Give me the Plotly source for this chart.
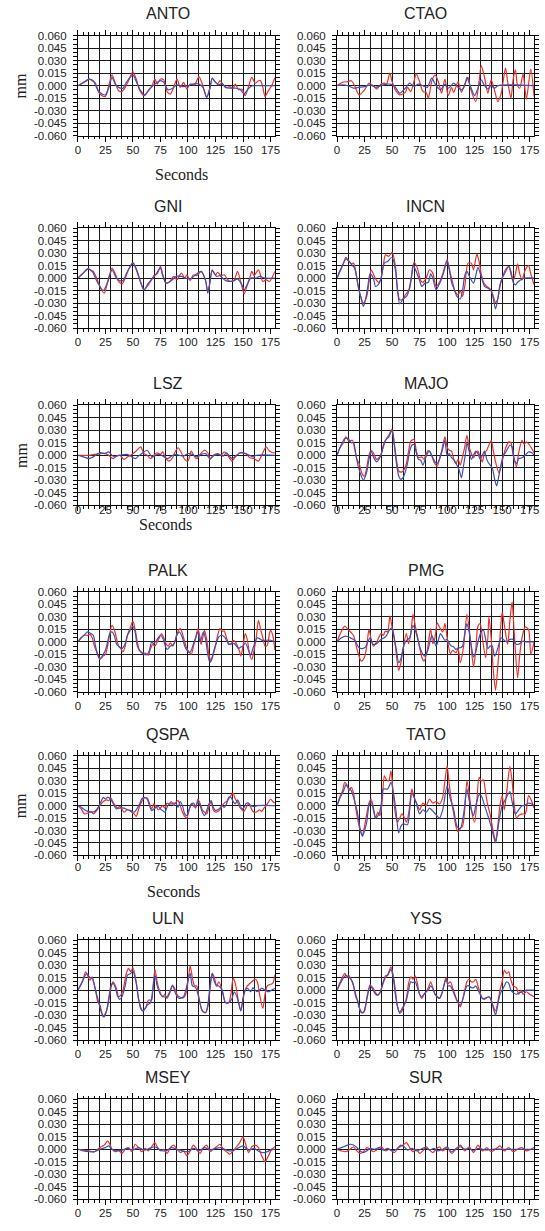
import plotly.graph_objects as go

# Station displacement traces: (seconds, value in 0.001 mm)
STATIONS = ["ANTO", "CTAO", "GNI", "INCN", "LSZ", "MAJO", "PALK", "PMG",
            "QSPA", "TATO", "ULN", "YSS", "MSEY", "SUR"]

ANTO_RED = [(0,0),(3,2),(6,5),(10,8),(13,6),(16,3),(19,-8),(22,-12),(25,-13),(28,0),(31,13),(34,3),(37,-6),(40,-7),(43,-2),(47,9),(50,17),(53,8),(56,-5),(60,-12),(64,-6),(67,-1),(70,8),(72,2),(75,8),(78,7),(81,-7),(84,-10),(87,-2),(90,8),(93,-2),(96,4),(99,-4),(102,2),(106,1),(110,11),(113,2),(117,-14),(120,-2),(122,9),(124,6),(127,2),(129,6),(132,1),(135,-2),(138,-1),(141,-3),(143,2),(146,-5),(149,-4),(152,-12),(155,-1),(158,10),(161,3),(164,6),(166,6),(168,-2),(170,-13),(173,-6),(176,0),(179,10)]
ANTO_BLUE = [(0,0),(4,3),(8,6),(10,8),(14,6),(18,-5),(22,-10),(25,-11),(28,-3),(31,10),(34,2),(37,-2),(41,-3),(44,4),(50,13),(53,5),(57,-6),(61,-11),(65,-4),(70,2),(75,6),(78,4),(82,-5),(86,-3),(90,1),(95,-1),(100,0),(104,2),(110,2),(114,-3),(117,-14),(120,-3),(122,9),(125,4),(128,1),(131,3),(134,-2),(138,-3),(143,-3),(147,-4),(151,-10),(154,-5),(157,-1),(160,0),(179,0)]

CTAO_RED = [(0,0),(5,4),(10,5),(13,6),(16,0),(20,-11),(25,-5),(29,3),(33,0),(36,-4),(40,2),(43,3),(45,2),(48,15),(50,5),(53,-5),(57,-11),(62,-8),(64,-2),(67,-7),(72,14),(75,5),(78,-7),(81,-8),(83,-15),(86,5),(89,13),(92,5),(95,-9),(98,8),(101,-12),(104,-2),(106,-8),(110,5),(113,-8),(116,2),(119,10),(121,-2),(126,-19),(129,5),(131,24),(134,10),(137,-9),(140,7),(143,-5),(146,-19),(149,-10),(153,21),(155,5),(158,-15),(160,8),(162,19),(164,0),(166,-3),(169,14),(172,-16),(176,20),(179,-13)]
CTAO_BLUE = [(0,0),(5,1),(10,0),(15,-3),(20,-2),(25,-1),(30,1),(35,-2),(42,1),(48,2),(52,0),(57,-9),(62,-3),(66,3),(70,-1),(74,2),(78,0),(82,-2),(86,9),(90,0),(94,-5),(98,2),(101,-3),(106,3),(110,-2),(113,-5),(116,0),(118,10),(121,0),(125,-12),(128,-3),(131,7),(134,0),(137,-4),(140,0),(143,-3),(146,0),(160,1),(179,0)]

GNI_RED = [(0,0),(4,5),(9,11),(12,9),(14,8),(18,-3),(21,-13),(24,-18),(27,-5),(31,12),(34,5),(37,-4),(40,-7),(43,0),(46,10),(50,19),(53,10),(57,-5),(60,-14),(64,-8),(67,-2),(69,3),(72,5),(75,14),(77,5),(80,-6),(83,-5),(87,2),(90,-2),(94,6),(97,0),(99,4),(102,-3),(105,4),(108,3),(112,8),(116,-3),(118,-18),(120,-5),(122,10),(125,4),(127,7),(130,3),(133,4),(136,-2),(139,-4),(142,-2),(145,8),(148,-5),(151,-19),(153,-12),(156,0),(158,8),(160,3),(164,10),(168,-4),(171,-2),(174,-4),(179,8)]
GNI_BLUE = [(0,0),(4,5),(9,11),(13,8),(17,-3),(23,-15),(27,-5),(31,10),(35,0),(38,-3),(41,-3),(45,8),(50,18),(54,8),(57,-5),(60,-14),(64,-6),(68,0),(70,3),(75,12),(77,3),(80,-6),(85,-3),(89,2),(94,2),(98,0),(102,-1),(106,3),(112,8),(116,-3),(118,-17),(120,-4),(122,9),(126,2),(129,3),(133,-2),(137,-4),(142,-3),(145,-1),(149,-8),(151,-14),(154,-7),(157,0),(162,0),(165,2),(170,0),(179,0)]

INCN_RED = [(0,0),(3,10),(6,18),(8,25),(11,20),(13,17),(15,18),(17,8),(19,-8),(21,-20),(24,-30),(27,-22),(29,-5),(31,10),(33,5),(36,-3),(38,-5),(40,0),(42,15),(44,28),(47,26),(50,31),(53,15),(55,-15),(57,-26),(60,-25),(62,-20),(65,-15),(68,5),(70,19),(73,12),(76,-3),(78,-5),(81,0),(84,10),(87,6),(90,-10),(93,-5),(96,5),(100,22),(103,5),(105,-5),(107,-15),(110,-20),(112,-15),(114,-22),(116,-10),(119,18),(122,18),(124,10),(127,29),(129,20),(131,5),(133,-5),(136,-10),(139,-13),(141,-18),(144,-29),(146,-25),(148,-10),(150,0),(153,10),(156,14),(158,5),(160,-3),(162,5),(164,17),(166,5),(168,-2),(171,10),(174,15),(176,5),(179,-8)]
INCN_BLUE = [(0,0),(4,12),(8,23),(11,20),(14,15),(16,12),(19,-8),(22,-25),(24,-34),(26,-25),(28,-10),(30,5),(33,0),(35,-10),(38,-7),(40,0),(43,18),(46,20),(50,25),(53,10),(55,-15),(57,-31),(60,-25),(63,-22),(66,-12),(68,5),(69,16),(72,8),(75,-3),(77,-10),(80,-6),(83,-5),(85,5),(87,0),(90,-14),(93,-7),(96,3),(100,20),(102,10),(104,-5),(106,-12),(109,-22),(112,-25),(114,-15),(116,3),(118,8),(121,0),(124,-6),(126,3),(128,13),(131,2),(134,-10),(137,-12),(140,-15),(142,-25),(144,-37),(146,-25),(148,-8),(150,0),(152,5),(156,14),(158,8),(160,-5),(162,-8),(164,-5),(167,-2),(170,0),(179,0)]

LSZ_RED = [(0,0),(10,0),(15,1),(20,2),(25,2),(28,0),(32,-4),(35,-1),(38,0),(42,-5),(45,-2),(48,0),(53,5),(57,10),(60,2),(63,0),(66,-4),(69,0),(72,3),(75,1),(77,4),(80,-4),(83,-7),(86,-3),(88,3),(91,9),(94,3),(97,-5),(100,-7),(103,5),(106,-2),(108,-4),(111,1),(115,6),(118,3),(120,-5),(123,0),(127,2),(130,0),(133,4),(136,0),(140,-7),(143,-2),(147,3),(150,3),(153,2),(156,-3),(160,-4),(164,-7),(167,0),(171,10),(174,5),(177,3),(179,3)]
LSZ_BLUE = [(0,0),(5,-2),(10,-4),(14,-2),(20,3),(24,2),(28,4),(31,0),(33,-2),(38,0),(45,1),(52,-4),(55,-1),(58,2),(63,6),(66,0),(68,-2),(72,1),(76,0),(81,-4),(84,-2),(88,1),(92,0),(96,-1),(100,2),(104,1),(108,-2),(112,1),(116,2),(120,-4),(124,0),(128,1),(132,-1),(135,3),(140,-4),(144,0),(148,3),(152,2),(156,0),(159,-2),(162,0),(179,0)]

MAJO_RED = [(0,0),(3,10),(6,15),(8,22),(11,17),(14,18),(16,8),(18,-5),(20,-10),(23,-23),(25,-25),(27,-15),(29,0),(31,6),(33,3),(36,-5),(38,-3),(40,0),(42,12),(45,20),(47,24),(50,31),(52,15),(54,-5),(56,-19),(59,-20),(61,-17),(63,-10),(65,5),(67,17),(70,19),(72,5),(74,-3),(77,-2),(79,-5),(81,2),(83,6),(85,3),(88,-8),(91,-13),(93,-5),(95,5),(98,22),(100,10),(102,6),(104,5),(106,-5),(108,-10),(110,-5),(112,-12),(114,-2),(116,10),(118,24),(120,10),(122,2),(124,-3),(126,3),(128,5),(130,-2),(132,-8),(134,3),(136,6),(140,18),(142,5),(144,-8),(147,-21),(149,-12),(151,-2),(153,8),(156,16),(158,15),(160,0),(163,-14),(165,3),(168,18),(170,13),(172,16),(175,12),(179,3)]
MAJO_BLUE = [(0,0),(3,10),(7,20),(10,20),(13,15),(15,15),(17,2),(19,-12),(22,-25),(24,-30),(27,-20),(29,-5),(31,5),(33,-2),(36,-8),(38,-5),(41,5),(44,18),(47,22),(50,30),(52,12),(54,-10),(56,-25),(58,-29),(60,-27),(62,-20),(64,-10),(66,5),(68,12),(70,13),(72,3),(74,-5),(76,-6),(78,-12),(80,-5),(82,2),(84,5),(86,0),(89,-8),(91,-10),(93,-5),(96,8),(98,18),(100,0),(102,2),(104,-3),(106,-5),(109,-12),(111,-18),(113,-27),(115,-12),(117,5),(118,15),(120,5),(122,-5),(124,0),(126,5),(128,2),(130,-5),(132,0),(134,5),(136,-5),(138,-10),(141,-15),(143,-28),(145,-37),(147,-25),(149,-12),(151,0),(153,3),(155,8),(157,12),(159,10),(161,-5),(163,-10),(165,-4),(168,-3),(171,0),(174,4),(177,3),(179,0)]

PALK_RED = [(0,0),(3,5),(6,8),(9,8),(11,9),(13,5),(15,-5),(18,-15),(20,-21),(23,-17),(25,-15),(27,-5),(29,10),(31,20),(33,15),(35,5),(37,-5),(39,-8),(41,-12),(43,-5),(45,8),(47,15),(50,25),(52,15),(54,0),(56,-10),(59,-13),(62,-14),(64,-16),(66,-8),(68,-3),(70,-5),(72,0),(74,5),(76,10),(78,5),(80,-2),(82,-5),(84,-1),(86,-5),(88,0),(90,10),(93,16),(95,10),(97,0),(99,-8),(101,-12),(103,-15),(105,-5),(107,5),(109,16),(111,5),(112,-3),(115,14),(117,3),(119,-15),(121,-23),(123,-15),(125,-5),(127,8),(129,16),(131,13),(133,13),(135,5),(137,-2),(139,-3),(141,2),(143,0),(145,-5),(147,-12),(148,-17),(150,-5),(152,10),(154,2),(156,-15),(158,-21),(160,-10),(162,5),(164,26),(166,15),(168,5),(170,-5),(172,-4),(174,10),(175,14),(177,8),(179,-10)]
PALK_BLUE = [(0,0),(3,5),(7,10),(9,12),(12,10),(14,8),(16,-5),(18,-15),(20,-20),(23,-15),(25,-10),(27,0),(29,10),(31,12),(33,8),(35,-2),(37,-5),(40,-8),(43,-2),(45,8),(47,13),(50,19),(52,12),(54,-5),(57,-12),(60,-15),(63,-15),(65,-10),(67,0),(69,-2),(72,3),(75,8),(77,5),(79,-3),(81,-9),(84,-5),(86,-4),(88,0),(90,8),(92,12),(95,5),(97,-5),(99,-10),(101,-13),(103,-10),(105,-2),(107,5),(109,12),(111,0),(114,12),(116,3),(118,-15),(120,-25),(122,-18),(124,-8),(126,0),(128,6),(131,8),(133,6),(135,2),(137,-3),(139,-2),(142,-2),(144,-5),(146,-8),(148,-6),(150,-5),(152,-1),(155,-10),(157,-16),(159,-8),(161,0),(163,5),(165,4),(167,2),(170,2),(175,2),(179,0)]

PMG_RED = [(0,0),(3,10),(7,19),(10,15),(13,11),(15,8),(18,-8),(22,-23),(25,-18),(27,-5),(29,15),(31,3),(33,-5),(36,0),(40,10),(42,8),(44,13),(46,12),(48,31),(50,18),(53,-5),(56,-34),(58,-25),(60,-8),(63,10),(65,-2),(67,10),(69,33),(71,20),(74,0),(77,-18),(79,-23),(82,-10),(85,16),(87,-2),(89,5),(91,23),(93,18),(96,12),(98,22),(100,5),(103,-14),(105,-10),(108,-13),(110,-8),(112,-25),(115,-5),(118,33),(121,5),(124,-30),(126,-10),(128,19),(130,22),(132,5),(135,-19),(137,5),(138,30),(140,5),(142,-35),(144,-58),(146,-30),(148,5),(150,36),(152,20),(155,-3),(157,25),(159,48),(161,10),(164,-43),(166,-15),(168,5),(171,18),(174,15),(176,-15),(179,0)]
PMG_BLUE = [(0,0),(4,5),(8,7),(12,5),(16,2),(20,-7),(23,-8),(26,-6),(28,0),(30,5),(33,-3),(36,-2),(40,3),(44,6),(48,15),(50,17),(52,5),(54,-10),(56,-25),(58,-20),(60,-8),(62,0),(64,3),(66,5),(69,20),(72,10),(75,-5),(78,-15),(80,-17),(83,-8),(86,8),(88,2),(90,-5),(92,2),(94,10),(96,6),(98,2),(100,3),(102,-2),(104,-5),(106,-6),(108,-9),(110,-7),(112,-7),(114,-5),(116,10),(118,22),(120,12),(122,-5),(124,-18),(126,-12),(128,0),(131,12),(133,14),(135,3),(137,-8),(139,-5),(141,-5),(143,-17),(145,-12),(147,-3),(149,5),(151,3),(154,0),(157,3),(160,3),(163,-3),(166,-2),(169,1),(172,0),(175,0),(179,0)]

QSPA_RED = [(0,0),(3,-4),(6,-10),(9,-9),(12,-7),(14,-10),(17,-6),(20,0),(23,5),(26,7),(28,6),(30,9),(32,4),(34,0),(36,-3),(38,-1),(40,-4),(42,-8),(45,-5),(48,-7),(51,-10),(53,-13),(55,-5),(58,5),(60,9),(63,9),(65,3),(67,-4),(69,2),(71,-1),(73,-5),(75,-3),(77,0),(79,-3),(81,3),(83,2),(85,5),(87,0),(89,4),(91,6),(93,0),(95,-8),(97,-13),(99,-15),(101,-5),(103,2),(105,0),(107,-3),(109,8),(111,3),(113,-5),(115,-8),(117,-10),(119,-2),(121,5),(123,-5),(125,-8),(127,-7),(129,-5),(131,0),(133,3),(135,5),(137,8),(139,12),(141,15),(143,8),(145,4),(147,-2),(149,-5),(151,-7),(153,-2),(155,2),(157,-2),(159,-7),(161,-8),(163,-7),(165,-5),(167,-7),(169,-3),(171,0),(173,4),(175,8),(177,5),(179,3)]
QSPA_BLUE = [(0,0),(3,-2),(6,-5),(9,-7),(12,-8),(15,-7),(18,-3),(21,5),(23,10),(25,8),(27,10),(29,9),(31,5),(33,0),(35,-4),(38,-3),(42,-3),(45,-5),(48,-6),(51,-8),(53,-5),(56,2),(58,8),(60,10),(63,8),(65,0),(67,-6),(69,-4),(71,-2),(73,-1),(75,-4),(77,-6),(79,-8),(81,-2),(83,2),(85,2),(87,3),(89,3),(91,-2),(93,5),(95,0),(97,-10),(99,-12),(101,-5),(103,2),(105,3),(107,-1),(109,5),(111,0),(113,-8),(115,-12),(117,-6),(119,2),(121,6),(123,-2),(125,-6),(127,-5),(129,-3),(131,0),(133,-2),(135,2),(137,10),(139,10),(141,5),(143,2),(145,7),(147,2),(149,-4),(151,-2),(153,3),(155,3),(157,0),(160,-1),(163,0),(179,0)]

TATO_RED = [(0,0),(3,12),(5,18),(7,28),(9,25),(11,18),(13,22),(15,15),(17,-3),(19,-18),(21,-30),(23,-35),(25,-25),(27,-10),(29,3),(31,8),(33,-2),(35,-15),(37,-8),(39,-12),(41,5),(43,36),(45,31),(47,30),(49,42),(51,15),(53,-10),(55,-20),(57,-15),(59,-10),(61,-14),(63,-20),(65,-10),(67,12),(68,20),(70,10),(72,4),(75,-5),(78,3),(81,0),(84,8),(87,3),(90,5),(93,2),(96,10),(98,30),(100,48),(102,25),(104,5),(106,-10),(108,-25),(110,-32),(112,-27),(114,-25),(116,-5),(118,30),(120,15),(122,-5),(125,-20),(127,5),(129,34),(131,30),(133,31),(135,15),(137,0),(139,-10),(141,-25),(144,-43),(146,-25),(148,0),(150,12),(152,-5),(154,15),(157,47),(159,30),(161,0),(163,-15),(165,-12),(168,-10),(171,-10),(174,12),(176,8),(179,-3)]
TATO_BLUE = [(0,0),(3,10),(6,18),(8,25),(10,22),(13,18),(15,10),(18,-5),(21,-28),(23,-37),(25,-30),(27,-20),(29,0),(31,5),(33,-5),(35,-15),(38,-10),(40,0),(42,20),(46,20),(49,28),(53,0),(56,-33),(58,-25),(60,-22),(64,-23),(66,-5),(68,15),(72,3),(75,-10),(78,-5),(81,-8),(84,-3),(88,-8),(93,-15),(96,-5),(100,24),(103,8),(106,-5),(109,-25),(112,-28),(115,-10),(118,20),(121,0),(124,-12),(126,0),(129,13),(131,12),(134,0),(137,-12),(140,-25),(144,-45),(147,-20),(150,0),(152,5),(157,17),(159,5),(162,-10),(165,-5),(168,0),(170,0),(174,3),(177,2),(179,0)]

ULN_RED = [(0,0),(4,10),(7,22),(9,17),(11,12),(13,16),(16,0),(18,-14),(20,-18),(22,-28),(24,-32),(27,-20),(29,-5),(31,8),(32,10),(35,2),(37,-8),(39,-6),(41,0),(44,20),(46,26),(48,22),(50,27),(53,10),(55,-10),(57,-20),(59,-25),(62,-20),(64,-12),(67,-12),(68,0),(70,25),(72,10),(74,0),(77,-8),(79,-5),(81,-10),(83,-5),(86,5),(88,2),(90,-5),(92,-8),(96,-9),(98,-5),(100,10),(102,29),(104,15),(106,5),(108,5),(110,-10),(113,-25),(116,-27),(118,-20),(120,0),(122,20),(124,15),(126,5),(128,10),(131,0),(134,-15),(137,-15),(139,-5),(141,14),(143,8),(146,-15),(148,-25),(150,-10),(152,0),(154,5),(156,8),(158,10),(161,13),(163,10),(165,-5),(168,-22),(170,-5),(172,5),(175,7),(177,8),(179,18)]
ULN_BLUE = [(0,0),(4,10),(8,20),(11,15),(13,14),(16,0),(19,-15),(21,-25),(23,-32),(26,-25),(28,-10),(30,5),(32,8),(34,3),(36,-7),(38,-11),(40,-8),(43,5),(45,18),(48,20),(50,23),(53,8),(55,-10),(57,-22),(59,-25),(61,-22),(63,-18),(66,-15),(68,0),(70,18),(72,5),(75,-5),(78,-8),(81,-8),(84,0),(86,6),(89,-5),(92,-10),(96,-8),(98,0),(102,20),(104,5),(107,3),(110,-10),(113,-25),(116,-27),(118,-18),(120,5),(122,20),(124,10),(126,5),(128,5),(131,0),(134,-15),(137,-15),(140,-10),(142,-2),(145,-10),(148,-25),(150,-10),(152,0),(154,2),(157,-2),(159,3),(161,0),(163,-2),(165,0),(167,2),(170,0),(173,-2),(176,0),(179,2)]

YSS_RED = [(0,0),(3,10),(7,20),(9,15),(11,17),(13,12),(15,5),(17,-8),(19,-13),(21,-24),(23,-27),(25,-25),(27,-10),(30,6),(33,2),(35,-3),(37,-6),(39,-3),(41,5),(44,15),(46,18),(49,28),(51,18),(53,0),(55,-20),(57,-27),(59,-22),(61,-18),(63,-10),(65,8),(67,16),(69,13),(71,17),(73,8),(75,-5),(77,-10),(79,-5),(81,-2),(83,3),(85,10),(87,3),(89,-5),(91,-8),(93,-10),(95,-5),(97,5),(99,15),(101,8),(103,10),(105,3),(107,-5),(109,-12),(112,-20),(114,-12),(116,0),(118,10),(120,13),(122,10),(124,10),(126,13),(128,5),(130,-3),(132,-10),(134,-11),(136,-9),(138,-8),(140,-12),(142,-20),(144,-25),(146,-15),(148,0),(150,10),(152,24),(154,20),(156,22),(158,12),(160,5),(163,3),(165,-5),(167,0),(169,-5),(172,-2),(175,-5),(179,-8)]
YSS_BLUE = [(0,0),(3,8),(6,15),(8,18),(10,16),(12,14),(14,10),(16,0),(18,-10),(20,-20),(22,-27),(24,-27),(26,-18),(28,-5),(30,5),(32,2),(34,-3),(36,-6),(38,-5),(40,0),(42,10),(44,17),(46,18),(49,25),(51,15),(53,-5),(55,-20),(57,-28),(59,-25),(61,-18),(63,-12),(65,0),(67,10),(69,9),(71,10),(73,3),(75,-5),(77,-8),(79,-5),(81,-2),(83,0),(85,5),(87,2),(89,-5),(91,-8),(93,-10),(95,-5),(97,5),(99,13),(101,5),(103,5),(105,0),(107,-7),(109,-13),(112,-18),(114,-12),(116,-2),(118,5),(120,5),(122,3),(124,3),(126,5),(128,0),(130,-5),(132,-10),(134,-10),(136,-9),(138,-8),(140,-12),(142,-22),(144,-30),(146,-18),(148,-5),(150,0),(152,5),(154,10),(156,8),(158,0),(160,-3),(163,-5),(166,-3),(169,-2),(172,0),(175,0),(179,0)]

MSEY_RED = [(0,0),(5,-1),(10,-2),(15,-3),(18,0),(21,3),(24,5),(27,10),(29,6),(31,0),(34,-3),(37,-1),(40,-5),(43,0),(46,2),(49,-3),(52,6),(55,2),(58,-3),(61,1),(64,-2),(67,3),(70,8),(72,3),(75,-2),(78,0),(81,-5),(84,2),(87,5),(90,0),(93,-4),(96,-2),(99,-8),(102,-2),(105,5),(108,0),(111,-5),(114,2),(117,5),(120,-3),(123,0),(126,3),(129,6),(132,0),(135,-3),(138,-6),(141,-2),(144,3),(147,8),(150,15),(152,8),(155,-4),(158,3),(161,5),(164,2),(167,-8),(170,-15),(173,-8),(176,0),(179,3)]
MSEY_BLUE = [(0,0),(5,-2),(10,-3),(15,-3),(20,0),(25,2),(28,4),(31,0),(35,-2),(40,-1),(45,1),(50,-1),(55,2),(60,-1),(65,1),(70,3),(75,-1),(80,-2),(85,2),(90,0),(95,-2),(100,-3),(105,1),(110,-2),(115,2),(120,-1),(125,1),(130,2),(135,-1),(140,-2),(145,1),(150,4),(155,-1),(160,1),(165,-3),(170,-4),(175,-1),(179,0)]

SUR_RED = [(0,0),(4,-2),(8,-3),(12,0),(15,3),(18,-2),(21,-5),(24,-3),(27,2),(30,0),(33,-3),(36,-1),(40,3),(44,-2),(48,0),(52,-4),(56,2),(60,5),(63,8),(66,2),(69,-3),(72,0),(75,-5),(78,-2),(81,3),(84,-1),(87,-4),(90,0),(93,3),(96,-2),(100,2),(104,-5),(108,0),(112,5),(116,-2),(120,3),(124,-4),(128,5),(132,-2),(136,2),(140,-3),(144,0),(148,4),(152,-2),(156,2),(160,-3),(164,0),(168,2),(172,-2),(176,0),(179,2)]
SUR_BLUE = [(0,0),(4,2),(8,4),(12,6),(15,5),(18,2),(21,-2),(24,-4),(27,-2),(30,1),(34,0),(38,2),(42,-1),(46,1),(50,-2),(54,0),(58,5),(61,3),(64,-1),(68,1),(72,-2),(76,0),(80,2),(84,-1),(88,1),(92,-2),(96,0),(100,3),(104,-3),(108,1),(112,3),(116,0),(120,1),(124,-2),(128,1),(132,0),(136,-1),(140,0),(150,0),(160,0),(179,0)]

SERIES = {
    "ANTO": (ANTO_RED, ANTO_BLUE), "CTAO": (CTAO_RED, CTAO_BLUE),
    "GNI": (GNI_RED, GNI_BLUE), "INCN": (INCN_RED, INCN_BLUE),
    "LSZ": (LSZ_RED, LSZ_BLUE), "MAJO": (MAJO_RED, MAJO_BLUE),
    "PALK": (PALK_RED, PALK_BLUE), "PMG": (PMG_RED, PMG_BLUE),
    "QSPA": (QSPA_RED, QSPA_BLUE), "TATO": (TATO_RED, TATO_BLUE),
    "ULN": (ULN_RED, ULN_BLUE), "YSS": (YSS_RED, YSS_BLUE),
    "MSEY": (MSEY_RED, MSEY_BLUE), "SUR": (SUR_RED, SUR_BLUE),
}

Y_TICKS = [0.060, 0.045, 0.030, 0.015, 0.0, -0.015, -0.030, -0.045, -0.060]
Y_TICK_TEXT = ["0.060", "0.045", "0.030", "0.015", "0.000",
               "-0.015", "-0.030", "-0.045", "-0.060"]
X_TICKS = [0, 25, 50, 75, 100, 125, 150, 175]

# ---- page geometry (pixels) ----
W, H = 545, 1231
COLS = [(76, 276), (339, 539)]
ROWS = [(30, 131), (224.3, 325.3), (403.3, 504), (591.7, 692.7),
        (757.3, 857.7), (943.3, 1044.3), (1104, 1205)]
ROW_LABEL_STANDOFF = [-2, -2, -11, -2, -4, -2, -2]
TITLE_X = [167, 429]

RED = "#e8312c"
BLUE = "#3c4fb4"
INK = "#222222"
GRID = "#1a1a1a"
SANS = "Liberation Sans, Arial, sans-serif"
SERIF = "Liberation Serif, Times New Roman, serif"


def px_x(p):
    return p / W


def px_y(p):
    return 1 - p / H


def unpack(seq):
    t = [p[0] for p in seq]
    v = [p[1] / 1000.0 for p in seq]
    return t, v


fig = go.Figure()
n = len(STATIONS)
annotations = []

for i, name in enumerate(STATIONS):
    k = i + 1
    r, c = divmod(i, 2)
    x0, x1 = COLS[c]
    top, bot = ROWS[r]
    xa, ya = f"x{k}", f"y{k}"
    red, blue = SERIES[name]
    for seq, col in ((red, RED), (blue, BLUE)):
        t, v = unpack(seq)
        fig.add_trace(go.Scatter(
            x=t, y=v, mode="lines", xaxis=xa, yaxis=ya,
            line=dict(color=col, width=1.2, shape="spline", smoothing=0.7),
            showlegend=False, hoverinfo="skip"))
    # empty trace hosting the 10-second grid axis
    fig.add_trace(go.Scatter(x=[None], y=[None], xaxis=f"x{k + n}", yaxis=ya,
                             showlegend=False, hoverinfo="skip"))

    fig.layout[f"xaxis{k}"] = dict(
        domain=[px_x(x0), px_x(x1)], anchor=ya, range=[0, 179],
        tickmode="array", tickvals=X_TICKS, ticktext=[str(v) for v in X_TICKS],
        ticks="outside", ticklen=5, tickwidth=1, tickcolor="black",
        showline=True, linecolor="black", linewidth=1, mirror="allticks",
        showgrid=False, zeroline=False,
        ticklabelstandoff=ROW_LABEL_STANDOFF[r],
        tickfont=dict(family=SANS, size=11.5, color=INK),
        minor=dict(dtick=5, tick0=0, ticks="outside", ticklen=2.5,
                   tickcolor="black", showgrid=False),
        fixedrange=True)
    fig.layout[f"xaxis{k + n}"] = dict(
        overlaying=xa, anchor=ya, range=[0, 179], tickmode="linear",
        tick0=0, dtick=10, showgrid=True, gridcolor=GRID, gridwidth=1,
        showticklabels=False, ticks="", showline=False, zeroline=False,
        fixedrange=True)
    fig.layout[f"yaxis{k}"] = dict(
        domain=[px_y(bot), px_y(top)], anchor=xa, range=[-0.06, 0.06],
        tickmode="array", tickvals=Y_TICKS, ticktext=Y_TICK_TEXT,
        ticks="outside", ticklen=4, tickwidth=1, tickcolor="black",
        showline=True, linecolor="black", linewidth=1, mirror="allticks",
        showgrid=True, gridcolor=GRID, gridwidth=1, zeroline=False,
        ticklabelstandoff=4,
        tickfont=dict(family=SANS, size=11.5, color=INK),
        minor=dict(dtick=0.005, tick0=0, ticks="outside", ticklen=2,
                   tickcolor="black", showgrid=False),
        fixedrange=True)

    annotations.append(dict(
        text=name, xref="paper", yref="paper", x=px_x(TITLE_X[c]),
        y=px_y(top - 22), xanchor="center", yanchor="middle",
        showarrow=False, font=dict(family=SANS, size=16, color=INK)))

# axis captions on the left column
for top, bot in (ROWS[0], ROWS[2], ROWS[4]):
    annotations.append(dict(
        text="mm", xref="paper", yref="paper", x=px_x(18),
        y=px_y((top + bot) / 2), xanchor="center", yanchor="middle",
        textangle=-90, showarrow=False,
        font=dict(family=SERIF, size=16, color=INK)))
for cx, cy in ((181, 170), (165, 524), (173, 894)):
    annotations.append(dict(
        text="Seconds", xref="paper", yref="paper", x=px_x(cx), y=px_y(cy),
        xanchor="center", yanchor="middle", showarrow=False,
        font=dict(family=SERIF, size=16, color=INK)))

fig.update_layout(
    width=W, height=H, margin=dict(l=0, r=0, t=0, b=0),
    paper_bgcolor="white", plot_bgcolor="white",
    annotations=annotations, showlegend=False)

fig.write_html("out.html", config={"displayModeBar": False})
